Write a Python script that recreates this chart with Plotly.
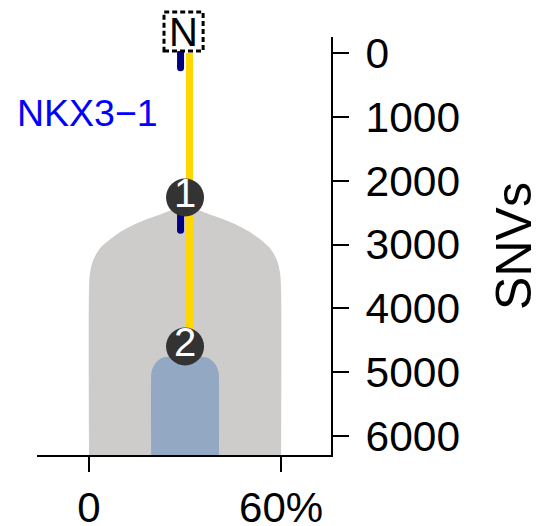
import plotly.graph_objects as go

# ---------------- data ----------------
snv_ticks = [0, 1000, 2000, 3000, 4000, 5000, 6000]
x_tickvals = [0, 60]
x_ticktext = ["0", "60%"]

clone_center = 30  # % (cellular fraction axis)

# clone 1 (grey) outline: depth in SNVs and half-width in %
clone1_depth = [2386, 2496, 2668, 2825, 3044, 3248, 3451, 3717, 6300]
clone1_halfwidth = [0, 5.9, 15.0, 20.9, 26.3, 28.75, 29.7, 30, 30]

# clone 2 (blue) outline
clone2_depth = [4767, 4814, 4893, 5002, 5128, 6300]
clone2_halfwidth = [6.8, 8.4, 9.7, 10.5, 10.6, 10.6]

node_labels = ["1", "2"]
node_depth = [2262, 4595]

trunk_depth = [0, 4595]          # yellow branch
trunk_offset = 1.4               # % offset of the yellow branch
driver_segments = [(0, 230), (2262, 2775)]  # navy driver marks
driver_offset = -1.4

gene_label = "NKX3\u22121"
gene_depth = 945
gene_x = 22.2

root_label = "N"

FONT = "Liberation Sans, Arial, sans-serif"

fig = go.Figure()

# clone 1
xs = [clone_center - h for h in reversed(clone1_halfwidth)] + \
     [clone_center + h for h in clone1_halfwidth[1:]]
ys = list(reversed(clone1_depth)) + clone1_depth[1:]
fig.add_trace(go.Scatter(x=xs, y=ys, mode="lines", fill="toself",
                         fillcolor="#CDCCCB", line=dict(width=0, color="#CDCCCB", shape="spline", smoothing=0.8),
                         hoverinfo="skip", showlegend=False))

# clone 2
xs2 = [clone_center - h for h in reversed(clone2_halfwidth)] + \
      [clone_center + h for h in clone2_halfwidth]
ys2 = list(reversed(clone2_depth)) + clone2_depth
fig.add_trace(go.Scatter(x=xs2, y=ys2, mode="lines", fill="toself",
                         fillcolor="#93A8C3", line=dict(width=0, color="#93A8C3", shape="spline", smoothing=0.8),
                         hoverinfo="skip", showlegend=False))

# yellow branch
fig.add_trace(go.Scatter(x=[clone_center + trunk_offset] * len(trunk_depth), y=trunk_depth,
                         mode="lines", line=dict(color="#FFD700", width=7),
                         hoverinfo="skip", showlegend=False))

# navy driver segments
for a, b in driver_segments:
    fig.add_trace(go.Scatter(x=[clone_center + driver_offset] * 2, y=[a, b],
                             mode="lines+markers", line=dict(color="#000080", width=7),
                             marker=dict(size=7, color="#000080"),
                             hoverinfo="skip", showlegend=False))

# nodes
fig.add_trace(go.Scatter(x=[clone_center] * len(node_depth), y=node_depth,
                         mode="markers+text", text=node_labels, textposition="middle center",
                         marker=dict(size=38, color="#333333", line=dict(width=0)),
                         textfont=dict(family=FONT, size=40, color="white"),
                         hoverinfo="skip", showlegend=False))

# gene label
fig.add_annotation(x=gene_x, y=gene_depth, xref="x", yref="y", text=gene_label,
                   showarrow=False, xanchor="right", yanchor="middle",
                   font=dict(family=FONT, size=37.5, color="#0000FF"))

# root box "N"
fig.add_shape(type="rect", xref="paper", yref="paper", x0=0.432, x1=0.565, y0=0.9665, y1=1.0598,
              line=dict(color="black", width=3, dash="5px,3px"), fillcolor="white", layer="above")
fig.add_annotation(x=0.4985, y=1.013, xref="paper", yref="paper", text=root_label, showarrow=False,
                   xanchor="center", yanchor="middle", font=dict(family=FONT, size=40, color="black"))

# page body has an 8px margin, so the figure is 8px smaller and shifted accordingly
fig.update_layout(
    width=545, height=518,
    margin=dict(l=29, r=222, t=29, b=71, autoexpand=False),
    plot_bgcolor="white", paper_bgcolor="white",
    font=dict(family=FONT, color="black"),
    xaxis=dict(range=[-16.25, 75.6], tickvals=x_tickvals, ticktext=x_ticktext,
               showline=True, linecolor="black", linewidth=2, ticks="outside",
               ticklen=15, tickwidth=2, tickcolor="black", showgrid=False, zeroline=False,
               tickfont=dict(family=FONT, size=42, color="black"), fixedrange=True, automargin=False),
    yaxis=dict(range=[6295, -250], side="right", tickvals=snv_ticks,
               showline=True, linecolor="black", linewidth=2, ticks="outside",
               ticklen=16, tickwidth=2, tickcolor="black", showgrid=False, zeroline=False,
               tickfont=dict(family=FONT, size=42.5, color="black"), ticklabelstandoff=8,
               title=dict(text="SNVs", font=dict(family=FONT, size=50, color="black"), standoff=37),
               fixedrange=True, automargin=False),
)

fig.write_html("out.html")
